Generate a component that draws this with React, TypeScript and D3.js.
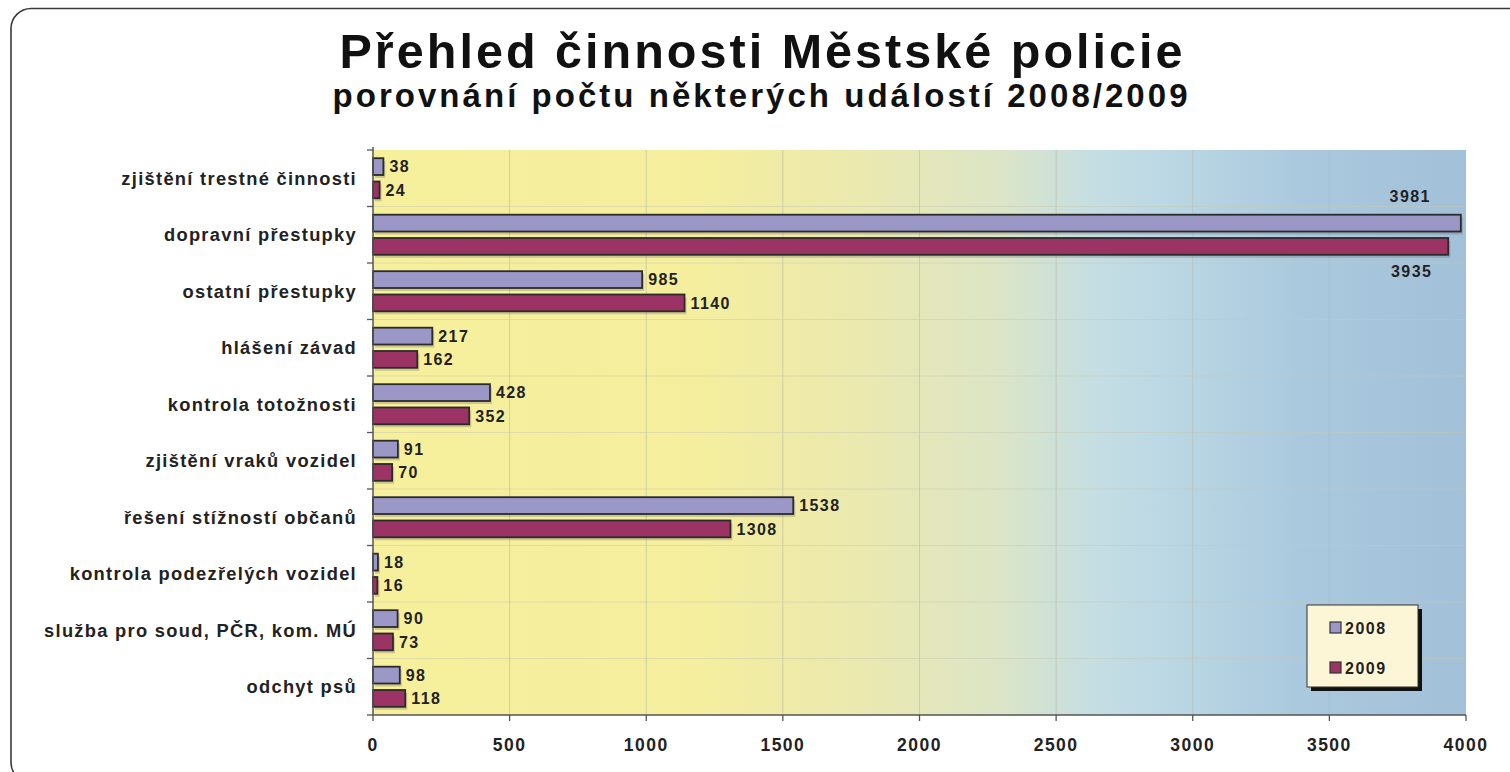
import React from "react";
import * as d3 from "d3";

const categories = [
  "zjištění trestné činnosti",
  "dopravní přestupky",
  "ostatní přestupky",
  "hlášení závad",
  "kontrola totožnosti",
  "zjištění vraků vozidel",
  "řešení stížností občanů",
  "kontrola podezřelých vozidel",
  "služba pro soud, PČR, kom. MÚ",
  "odchyt psů",
];
const values2008 = [38, 3981, 985, 217, 428, 91, 1538, 18, 90, 98];
const values2009 = [24, 3935, 1140, 162, 352, 70, 1308, 16, 73, 118];
const seriesNames = ["2008", "2009"];
const xTicks = [0, 500, 1000, 1500, 2000, 2500, 3000, 3500, 4000];
const title = "Přehled činnosti Městské policie";
const subtitle = "porovnání počtu některých událostí 2008/2009";

const W = 1510;
const H = 772;
const plot = { left: 373, right: 1466, top: 150, bottom: 715 };
const colors = ["#9b98c8", "#9b3464"];
const font = "'Liberation Sans', Arial, Helvetica, sans-serif";

export default function App() {
  const x = d3.scaleLinear().domain([0, 4000]).range([plot.left, plot.right]);
  const y = d3
    .scaleBand<string>()
    .domain(categories)
    .range([plot.top, plot.bottom])
    .paddingInner(0)
    .paddingOuter(0);
  const step = y.step();
  const barH = 16.8;
  const gap = 6.5;
  const groupH = barH * 2 + gap;
  const offset = (step - groupH) / 2;
  const series = [values2008, values2009];

  const gradStops = [
    { o: 0, c: "#f6ef9b" },
    { o: 0.3, c: "#f4ee9e" },
    { o: 0.44, c: "#ebe9ae" },
    { o: 0.57, c: "#dce5c6" },
    { o: 0.66, c: "#c5dee3" },
    { o: 0.72, c: "#bcd8e4" },
    { o: 0.85, c: "#aac9de" },
    { o: 1, c: "#a2c1d9" },
  ];

  return (
    <div style={{ position: "fixed", left: 0, top: 0 }}>
      <svg width={W} height={H} style={{ display: "block", background: "#fff" }}>
        <defs>
          <linearGradient id="bg" gradientUnits="userSpaceOnUse" x1={plot.left} x2={plot.right} y1={0} y2={0}>
            {gradStops.map((s, i) => (
              <stop key={i} offset={s.o} stopColor={s.c} />
            ))}
          </linearGradient>
        </defs>
        <rect x={11} y={8.5} width={1530} height={774} rx={20} fill="none" stroke="#3a3a3a" strokeWidth={1.6} />

        <text x={761} y={68} textAnchor="middle" fontFamily={font} fontWeight="bold" fontSize={48.5} fill="#111" textLength={843} lengthAdjust="spacing">
          {title}
        </text>
        <text x={760} y={107} textAnchor="middle" fontFamily={font} fontWeight="bold" fontSize={33} fill="#111" textLength={855} lengthAdjust="spacing">
          {subtitle}
        </text>

        <rect x={plot.left} y={plot.top} width={plot.right - plot.left} height={plot.bottom - plot.top} fill="url(#bg)" />

        {xTicks.slice(1, -1).map((t) => (
          <line key={"g" + t} x1={x(t)} x2={x(t)} y1={plot.top} y2={plot.bottom} stroke="#b9b9a8" strokeOpacity={0.6} strokeWidth={1} />
        ))}
        {categories.slice(1).map((c) => (
          <line key={"h" + c} x1={plot.left} x2={plot.right} y1={y(c)!} y2={y(c)!} stroke="#c8c8b4" strokeOpacity={0.5} strokeWidth={1} />
        ))}

        {categories.map((c, i) =>
          series.map((vals, s) => {
            const by = y(c)! + offset + s * (barH + gap);
            const w = x(vals[i]) - x(0);
            return (
              <g key={c + s}>
                <rect x={x(0) + 2} y={by + 3} width={w} height={barH} fill="#555" opacity={0.25} />
                <rect x={x(0)} y={by} width={w} height={barH} fill={colors[s]} stroke="#2b2b2b" strokeWidth={1.8} />
              </g>
            );
          })
        )}

        {categories.map((c, i) =>
          series.map((vals, s) => {
            const by = y(c)! + offset + s * (barH + gap);
            const v = vals[i];
            const overflow = x(v) + 50 > plot.right;
            let tx = x(v) + 6;
            let ty = by + barH / 2;
            let anchor: "start" | "end" = "start";
            if (overflow) {
              anchor = "end";
              if (s === 0) {
                tx = x(v) - 30;
                ty = by - 18;
              } else {
                tx = x(v) - 16;
                ty = by + barH + 16;
              }
            }
            return (
              <text key={"l" + c + s} x={tx} y={ty} dy="0.36em" textAnchor={anchor} fontFamily={font} fontWeight="bold" fontSize={16} letterSpacing={1.4} fill="#222">
                {v}
              </text>
            );
          })
        )}

        <line x1={plot.left} x2={plot.left} y1={plot.top - 3} y2={plot.bottom} stroke="#555" strokeWidth={1.5} />
        {categories.map((c) => (
          <line key={"t" + c} x1={plot.left - 6} x2={plot.left} y1={y(c)!} y2={y(c)!} stroke="#555" strokeWidth={1.3} />
        ))}
        <line x1={plot.left - 6} x2={plot.left} y1={plot.bottom} y2={plot.bottom} stroke="#555" strokeWidth={1.3} />
        <line x1={plot.left} x2={plot.right} y1={plot.bottom} y2={plot.bottom} stroke="#555" strokeWidth={1.5} />
        {xTicks.map((t) => (
          <g key={"x" + t}>
            <line x1={x(t)} x2={x(t)} y1={plot.bottom} y2={plot.bottom + 6} stroke="#555" strokeWidth={1.3} />
            <text x={x(t)} y={plot.bottom + 30} dy="0.36em" textAnchor="middle" fontFamily={font} fontWeight="bold" fontSize={17.5} letterSpacing={1.5} fill="#222">
              {t}
            </text>
          </g>
        ))}

        {categories.map((c) => (
          <text key={"c" + c} x={plot.left - 16} y={y(c)! + step / 2} dy="0.36em" textAnchor="end" fontFamily={font} fontWeight="bold" fontSize={18.3} letterSpacing={1.3} fill="#222">
            {c}
          </text>
        ))}

        <g>
          <rect x={1311} y={609} width={111} height={82} fill="#111" />
          <rect x={1307} y={605} width={111} height={82} fill="#fdf6d6" stroke="#333" strokeWidth={1} />
          {seriesNames.map((n, i) => (
            <g key={n}>
              <rect x={1330} y={622 + i * 40} width={11} height={11} fill={colors[i]} stroke="#333" strokeWidth={1.2} />
              <text x={1345} y={628 + i * 40} dy="0.36em" fontFamily={font} fontWeight="bold" fontSize={16} letterSpacing={1.5} fill="#222">
                {n}
              </text>
            </g>
          ))}
        </g>
      </svg>
    </div>
  );
}
